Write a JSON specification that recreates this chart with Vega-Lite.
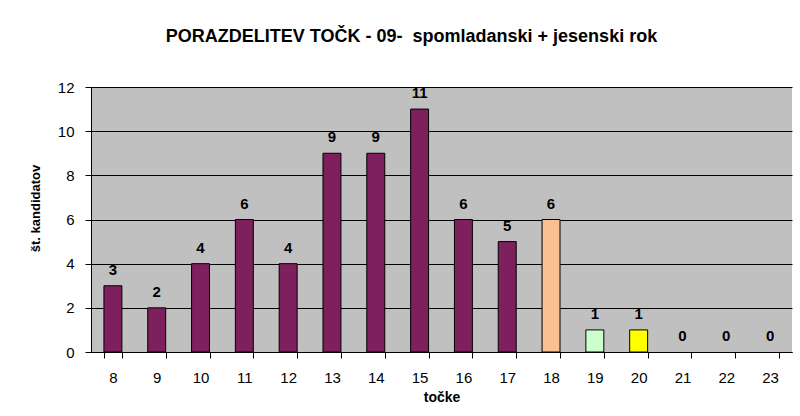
{
  "$schema": "https://vega.github.io/schema/vega-lite/v6.json",
  "width": 701,
  "height": 265,
  "autosize": {"type": "none"},
  "padding": {"left": 91, "top": 87, "right": 8, "bottom": 64},
  "background": "white",
  "title": {
    "text": "PORAZDELITEV TOČK - 09-\u00a0 spomladanski + jesenski rok",
    "font": "Liberation Sans",
    "fontSize": 18,
    "fontWeight": "bold",
    "color": "black",
    "anchor": "middle",
    "dx": -30,
    "offset": 34
  },
  "config": {
    "font": "Liberation Sans",
    "view": {"fill": "#C0C0C0", "stroke": null}
  },
  "data": {
    "values": [
      {"tocke": "8", "kandidati": 3},
      {"tocke": "9", "kandidati": 2},
      {"tocke": "10", "kandidati": 4},
      {"tocke": "11", "kandidati": 6},
      {"tocke": "12", "kandidati": 4},
      {"tocke": "13", "kandidati": 9},
      {"tocke": "14", "kandidati": 9},
      {"tocke": "15", "kandidati": 11},
      {"tocke": "16", "kandidati": 6},
      {"tocke": "17", "kandidati": 5},
      {"tocke": "18", "kandidati": 6},
      {"tocke": "19", "kandidati": 1},
      {"tocke": "20", "kandidati": 1},
      {"tocke": "21", "kandidati": 0},
      {"tocke": "22", "kandidati": 0},
      {"tocke": "23", "kandidati": 0}
    ]
  },
  "encoding": {
    "x": {
      "field": "tocke",
      "type": "ordinal",
      "sort": null,
      "scale": {"paddingInner": 0.59, "paddingOuter": 0.295},
      "axis": {
        "title": "točke",
        "titleFont": "Liberation Sans",
        "titleFontSize": 14,
        "titleFontWeight": "bold",
        "titleColor": "black",
        "titlePadding": 5,
        "labelAngle": 0,
        "labelFontSize": 15,
        "labelColor": "black",
        "labelPadding": 12,
        "tickBand": "extent",
        "tickColor": "black",
        "tickSize": 6,
        "domainColor": "black",
        "grid": false
      }
    },
    "y": {
      "field": "kandidati",
      "type": "quantitative",
      "scale": {"domain": [0, 12]},
      "axis": {
        "title": "št. kandidatov",
        "titleFont": "Liberation Sans",
        "titleFontSize": 13,
        "titleFontWeight": "bold",
        "titleColor": "black",
        "titlePadding": 15,
        "titleY": 121,
        "values": [0, 2, 4, 6, 8, 10, 12],
        "labelFontSize": 15,
        "labelColor": "black",
        "labelPadding": 11,
        "tickColor": "black",
        "tickSize": 6,
        "domainColor": "black",
        "grid": true,
        "gridColor": "black",
        "gridOpacity": 1
      }
    }
  },
  "layer": [
    {
      "transform": [{"filter": "datum.kandidati > 0"}],
      "mark": {"type": "bar", "stroke": "black", "strokeWidth": 1},
      "encoding": {
        "color": {
          "field": "tocke",
          "type": "nominal",
          "legend": null,
          "scale": {
            "domain": ["8", "9", "10", "11", "12", "13", "14", "15", "16", "17", "18", "19", "20", "21", "22", "23"],
            "range": ["#7E1F5E", "#7E1F5E", "#7E1F5E", "#7E1F5E", "#7E1F5E", "#7E1F5E", "#7E1F5E", "#7E1F5E", "#7E1F5E", "#7E1F5E", "#FCBF90", "#CCFFCC", "#FFFF00", "#7E1F5E", "#7E1F5E", "#7E1F5E"]
          }
        }
      }
    },
    {
      "mark": {"type": "text", "dy": -11, "baseline": "alphabetic", "fontWeight": "bold", "fontSize": 15, "color": "black"},
      "encoding": {
        "text": {"field": "kandidati", "type": "quantitative"}
      }
    }
  ]
}
